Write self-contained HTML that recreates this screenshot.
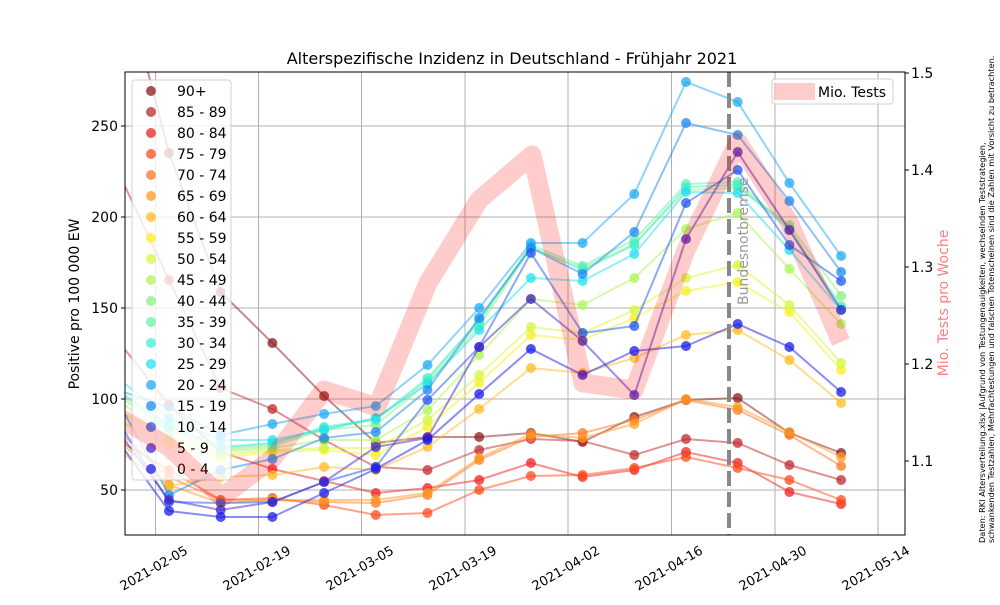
<!DOCTYPE html>
<html><head><meta charset="utf-8"><style>
body{margin:0;background:#fff;}
svg{font-family:"DejaVu Sans","Liberation Sans",sans-serif;}
</style></head><body>
<svg id="s" width="1000" height="600" xmlns="http://www.w3.org/2000/svg">
<rect width="1000" height="600" fill="#fff"/>
<defs><clipPath id="c"><rect x="125" y="72" width="780" height="463"/></clipPath></defs>
<g stroke="#b0b0b0" stroke-width="1">
<line x1="155.5" y1="72" x2="155.5" y2="535"/><line x1="258.5" y1="72" x2="258.5" y2="535"/>
<line x1="361.5" y1="72" x2="361.5" y2="535"/><line x1="465" y1="72" x2="465" y2="535"/>
<line x1="568" y1="72" x2="568" y2="535"/><line x1="671.5" y1="72" x2="671.5" y2="535"/>
<line x1="775" y1="72" x2="775" y2="535"/><line x1="878" y1="72" x2="878" y2="535"/>
<line x1="125" y1="126" x2="905" y2="126"/><line x1="125" y1="217" x2="905" y2="217"/>
<line x1="125" y1="308" x2="905" y2="308"/><line x1="125" y1="399" x2="905" y2="399"/>
<line x1="125" y1="490" x2="905" y2="490"/>
</g>
<g id="series" clip-path="url(#c)"></g>
<g id="leg">
<rect x="132" y="80" width="99" height="400" rx="3" fill="rgba(255,255,255,0.8)" stroke="#d0d0d0"/>
</g>
<line x1="729" y1="72" x2="729" y2="535" stroke="#888" stroke-width="4" stroke-dasharray="15,6"/>
<text transform="translate(748,305) rotate(-90)" font-size="14" fill="#999">Bundesnotbremse</text>
<polyline clip-path="url(#c)" fill="none" stroke="rgba(255,0,0,0.2)" stroke-width="19" stroke-linejoin="round" points="117,416 169,447 222,497 273,458 324,390 377,407 428,283 479,200 532,155 583,383 634,390 686,250 738,142 789,222 841,342"/>
<rect x="772" y="79" width="121" height="25" rx="3" fill="rgba(255,255,255,0.8)" stroke="#d0d0d0"/>
<rect x="774" y="83" width="41" height="17" fill="rgba(255,0,0,0.2)"/>
<text x="818" y="97" font-size="14">Mio. Tests</text>
<rect x="125" y="72" width="780" height="463" fill="none" stroke="#000" stroke-width="1"/>
<g font-size="14" text-anchor="end">
<text x="118" y="131">250</text><text x="118" y="222">200</text><text x="118" y="313">150</text><text x="118" y="404">100</text><text x="118" y="495">50</text>
</g>
<g stroke="#000"><line x1="121" y1="126" x2="125" y2="126"/><line x1="121" y1="217" x2="125" y2="217"/><line x1="121" y1="308" x2="125" y2="308"/><line x1="121" y1="399" x2="125" y2="399"/><line x1="121" y1="490" x2="125" y2="490"/>
<line x1="905" y1="73" x2="909" y2="73"/><line x1="905" y1="170" x2="909" y2="170"/><line x1="905" y1="267" x2="909" y2="267"/><line x1="905" y1="364" x2="909" y2="364"/><line x1="905" y1="461" x2="909" y2="461"/></g>
<g font-size="14">
<text x="911" y="78">1.5</text><text x="911" y="175">1.4</text><text x="911" y="272">1.3</text><text x="911" y="369">1.2</text><text x="911" y="466">1.1</text>
</g>
<g font-size="13" text-anchor="middle">
<text transform="translate(156,572) rotate(-30)">2021-02-05</text>
<text transform="translate(259,572) rotate(-30)">2021-02-19</text>
<text transform="translate(362,572) rotate(-30)">2021-03-05</text>
<text transform="translate(465,572) rotate(-30)">2021-03-19</text>
<text transform="translate(568,572) rotate(-30)">2021-04-02</text>
<text transform="translate(671,572) rotate(-30)">2021-04-16</text>
<text transform="translate(775,572) rotate(-30)">2021-04-30</text>
<text transform="translate(878,572) rotate(-30)">2021-05-14</text>
</g>
<text x="512" y="64" font-size="16" text-anchor="middle">Alterspezifische Inzidenz in Deutschland - Frühjahr 2021</text>
<text transform="translate(79,304) rotate(-90)" font-size="14" text-anchor="middle">Positive pro 100 000 EW</text>
<text transform="translate(948,303) rotate(-90)" font-size="14" text-anchor="middle" fill="#ff7f7f">Mio. Tests pro Woche</text>
<text transform="translate(985,543) rotate(-90)" font-size="8.2">Daten: RKI Altersverteilung.xlsx |Aufgrund von Testungenauigkeiten, wechselnden Teststrategien,</text>
<text transform="translate(994,543) rotate(-90)" font-size="8.2">schwankenden Testzahlen, Mehrfachtestungen und falschen Totenscheinen sind die Zahlen mit Vorsicht zu betrachten.</text>
</svg>
<script>
var S=[
["90+","#8b1a1a",[-46,153,292,343,396,443,437,437,433,442,417,400,398,433,453]],
["85 - 89","#c0272d",[170,280,388,409,440,467,470,450,439,441,455,439,443,465,480]],
["80 - 84","#ee2222",[340,405,452,469,481,493,488,480,463,477,470,452,463,492,504]],
["75 - 79","#ff4a1a",[440,470,500,498,505,515,513,490,476,475,468,457,468,480,500]],
["70 - 74","#ff7722",[430,477,500,500,502,503,495,460,437,433,420,400,410,435,466]],
["65 - 69","#ff9922",[440,485,503,500,500,500,493,458,434,438,424,399,407,432,457]],
["60 - 64","#ffbb22",[450,486,477,475,467,470,447,409,368,373,358,335,330,360,403]],
["55 - 59","#f5f022",[420,445,458,452,450,455,427,383,335,340,318,291,282,312,370]],
["50 - 54","#d5f53a",[410,440,455,450,448,448,420,375,327,333,310,278,265,305,363]],
["45 - 49","#aaf555",[400,437,452,448,440,440,410,355,299,305,278,229,213,269,324]],
["40 - 44","#88f080",[395,430,450,446,430,425,383,326,248,268,244,190,188,225,296]],
["35 - 39","#66f0a8",[392,427,448,444,428,420,380,322,245,266,240,184,182,228,306]],
["30 - 34","#40f0d0",[390,425,447,443,427,419,378,320,247,270,245,187,185,230,308]],
["25 - 29","#22e0f0",[378,418,440,440,430,418,384,330,278,281,254,192,193,250,310]],
["20 - 24","#1eaaf5",[390,407,435,424,414,406,365,308,243,243,194,82,102,183,256]],
["15 - 19","#1e88f0",[400,495,470,459,438,432,390,318,248,274,232,123,135,201,272]],
["10 - 14","#1e55f0",[420,502,503,502,482,467,400,347,253,333,326,203,170,245,281]],
["5 - 9","#4422c8",[430,500,510,502,482,447,438,347,299,341,395,239,152,230,310]],
["0 - 4","#1a1ae8",[440,511,517,517,493,469,440,394,349,375,351,346,324,347,392]]
];
var ns="http://www.w3.org/2000/svg",g=document.getElementById("series"),L=document.getElementById("leg");
function el(t,a,p){var e=document.createElementNS(ns,t);for(var k in a)e.setAttribute(k,a[k]);p.appendChild(e);return e;}
S.forEach(function(s,i){
 var pts=s[2].map(function(y,k){return [117.3+51.7*k,y];});
 el("polyline",{points:pts.map(function(p){return p.join(",")}).join(" "),fill:"none",stroke:s[1],"stroke-width":2,"stroke-opacity":0.5},g);
 pts.forEach(function(p){el("circle",{cx:p[0],cy:p[1],r:5,fill:s[1],"fill-opacity":0.75},g);});
 var y=91+21*i;
 el("circle",{cx:151,cy:y,r:5,fill:s[1],"fill-opacity":0.75},L);
 var t=el("text",{x:177,y:y+5,"font-size":14},L);t.textContent=s[0];
});
</script>
</body></html>
